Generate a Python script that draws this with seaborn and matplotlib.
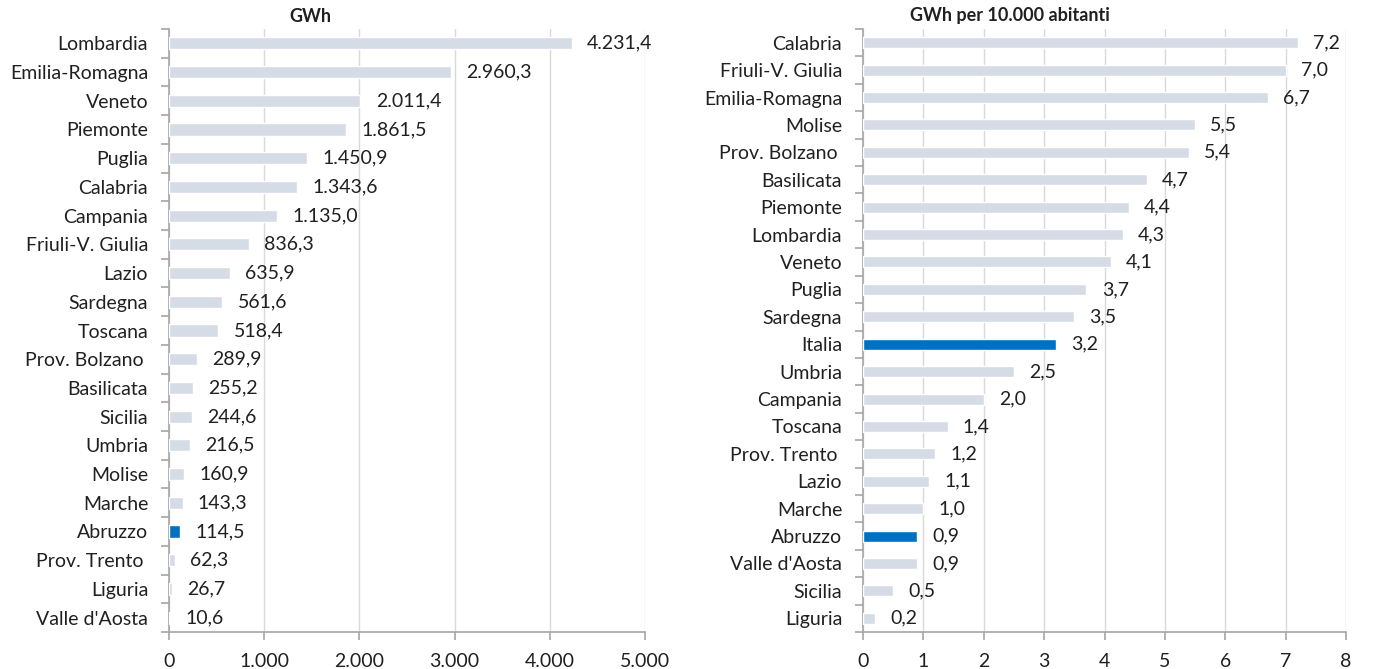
import matplotlib
matplotlib.use("Agg")
import matplotlib.pyplot as plt
import matplotlib.ticker as mticker
import seaborn as sns
import pandas as pd

# Left panel: energy in GWh by region
regions_gwh = ["Lombardia", "Emilia-Romagna", "Veneto", "Piemonte", "Puglia", "Calabria",
               "Campania", "Friuli-V. Giulia", "Lazio", "Sardegna", "Toscana", "Prov. Bolzano ",
               "Basilicata", "Sicilia", "Umbria", "Molise", "Marche", "Abruzzo",
               "Prov. Trento ", "Liguria", "Valle d'Aosta"]
values_gwh = [4231.4, 2960.3, 2011.4, 1861.5, 1450.9, 1343.6, 1135.0, 836.3, 635.9, 561.6,
              518.4, 289.9, 255.2, 244.6, 216.5, 160.9, 143.3, 114.5, 62.3, 26.7, 10.6]

# Right panel: GWh per 10,000 inhabitants
regions_pc = ["Calabria", "Friuli-V. Giulia", "Emilia-Romagna", "Molise", "Prov. Bolzano ",
              "Basilicata", "Piemonte", "Lombardia", "Veneto", "Puglia", "Sardegna", "Italia",
              "Umbria", "Campania", "Toscana", "Prov. Trento ", "Lazio", "Marche", "Abruzzo",
              "Valle d'Aosta", "Sicilia", "Liguria"]
values_pc = [7.2, 7.0, 6.7, 5.5, 5.4, 4.7, 4.4, 4.3, 4.1, 3.7, 3.5, 3.2, 2.5, 2.0, 1.4, 1.2,
             1.1, 1.0, 0.9, 0.9, 0.5, 0.2]

highlight = {"Abruzzo", "Italia"}
GREY = "#D6DCE5"
BLUE = "#0070C0"
TEXT = "#202020"
FONT = "Lato"
FS = 14


def it_num(v, decimals=1):
    s = f"{v:,.{decimals}f}"
    return s.replace(",", "X").replace(".", ",").replace("X", ".")


def panel(ax, cats, vals, xmax, step, fmt_tick, bar_h):
    df = pd.DataFrame({"cat": cats, "val": vals})
    pal = {c: (BLUE if c in highlight else GREY) for c in cats}
    sns.barplot(data=df, y="cat", x="val", hue="cat", palette=pal, order=cats,
                hue_order=cats, orient="h", width=bar_h, legend=False, ax=ax,
                saturation=1, zorder=3)
    ax.set_xlim(0, xmax)
    ax.set_ylim(len(cats) - 0.5, -0.5)
    ax.xaxis.set_major_locator(mticker.MultipleLocator(step))
    ax.xaxis.set_major_formatter(mticker.FuncFormatter(fmt_tick))
    ax.grid(axis="x", color="#D9D9D9", linewidth=1, zorder=0)
    ax.grid(axis="y", visible=False)
    ax.set_xlabel("")
    ax.set_ylabel("")
    for side in ("top", "right"):
        ax.spines[side].set_visible(False)
    for side in ("left", "bottom"):
        ax.spines[side].set_color("#A6A6A6")
        ax.spines[side].set_linewidth(1.2)
    # category tick marks sit between the bars
    ax.set_yticks(range(len(cats)))
    ax.set_yticklabels(cats)
    ax.yaxis.set_minor_locator(mticker.FixedLocator([i - 0.5 for i in range(len(cats) + 1)]))
    ax.tick_params(axis="y", which="major", left=False, length=0, pad=15, labelsize=FS,
                   labelcolor=TEXT)
    ax.tick_params(axis="y", which="minor", left=True, length=6, color="#A6A6A6", width=1.2)
    ax.tick_params(axis="x", which="major", bottom=True, length=6, color="#A6A6A6",
                   width=1.2, labelsize=FS, labelcolor=TEXT, pad=9)
    for lbl in ax.get_yticklabels() + ax.get_xticklabels():
        lbl.set_fontfamily(FONT)
    for i, v in enumerate(vals):
        ax.annotate(it_num(v), xy=(v, i), xytext=(11, 0), textcoords="offset points",
                    va="center", ha="left", fontsize=FS, color=TEXT,
                    fontfamily=FONT)


sns.set_theme(style="white")
plt.rcParams["font.family"] = [FONT, "DejaVu Sans"]

fig = plt.figure(figsize=(13.75, 6.69), dpi=100)
ax1 = fig.add_axes([169 / 1375, 1 - 632 / 669, (645 - 169) / 1375, (632 - 29) / 669])
ax2 = fig.add_axes([863 / 1375, 1 - 632 / 669, (1346 - 863) / 1375, (632 - 29) / 669])

panel(ax1, regions_gwh, values_gwh, 5000, 1000,
      lambda x, p: it_num(x, 0), 0.42)
panel(ax2, regions_pc, values_pc, 8, 1,
      lambda x, p: f"{x:.0f}", 0.40)

fig.text(310 / 1375, 1 - 16 / 669, "GWh", ha="center", va="center",
         fontsize=13, fontweight="bold", color=TEXT, fontfamily=FONT)
fig.text(1010 / 1375, 1 - 16 / 669, "GWh per 10.000 abitanti", ha="center", va="center",
         fontsize=13, fontweight="bold", color=TEXT, fontfamily=FONT)

fig.savefig("out.png", dpi=100)
